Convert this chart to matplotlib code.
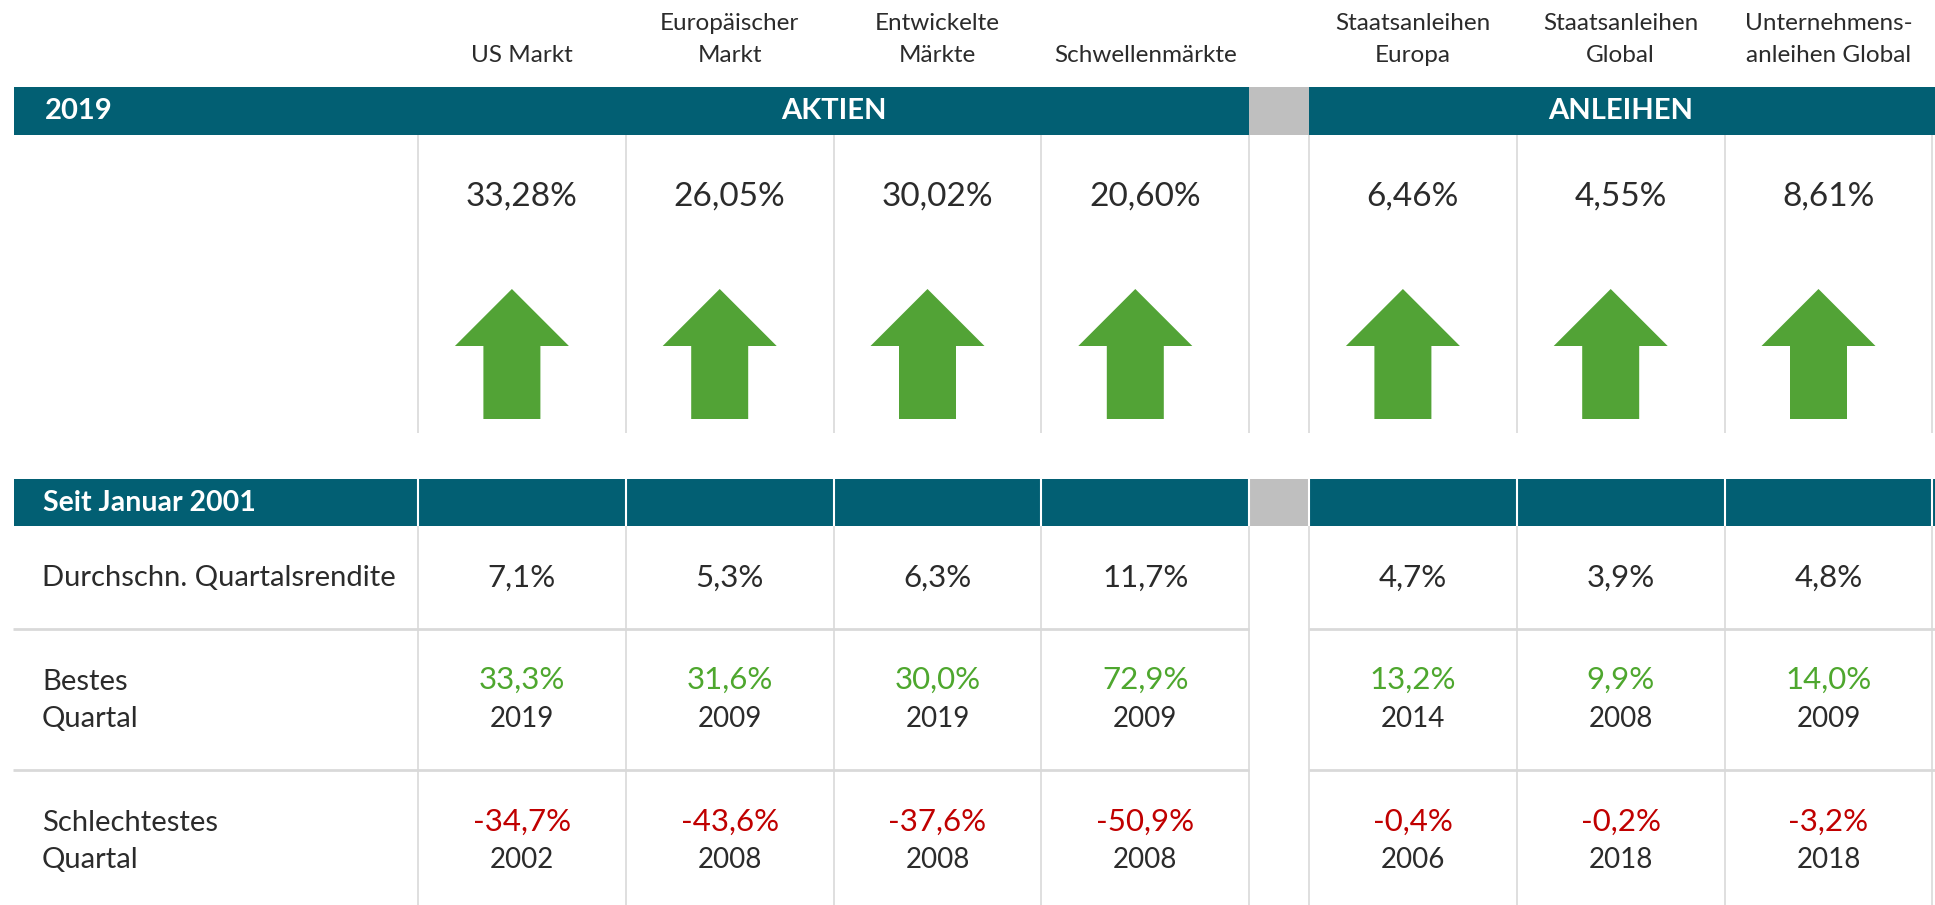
import matplotlib
matplotlib.use("Agg")
import matplotlib.pyplot as plt
from matplotlib.patches import Rectangle, Polygon

plt.rcParams['font.family'] = ['Lato', 'DejaVu Sans']

# data
columns = ["US Markt", "Europäischer\nMarkt", "Entwickelte\nMärkte", "Schwellenmärkte",
           "Staatsanleihen\nEuropa", "Staatsanleihen\nGlobal", "Unternehmens-\nanleihen Global"]
ret_2019 = [33.28, 26.05, 30.02, 20.60, 6.46, 4.55, 8.61]
avg_q = [7.1, 5.3, 6.3, 11.7, 4.7, 3.9, 4.8]
best_q = [33.3, 31.6, 30.0, 72.9, 13.2, 9.9, 14.0]
best_year = [2019, 2009, 2019, 2009, 2014, 2008, 2009]
worst_q = [-34.7, -43.6, -37.6, -50.9, -0.4, -0.2, -3.2]
worst_year = [2002, 2008, 2008, 2008, 2006, 2018, 2018]
groups = ["AKTIEN", "ANLEIHEN"]
row_labels = ["Durchschn. Quartalsrendite", "Bestes\nQuartal", "Schlechtestes\nQuartal"]

TEAL = "#025f73"
GREY = "#bfbfbf"
LINE = "#d9d9d9"
TXT = "#2b2b2b"
GREEN_TXT = "#4ea72e"
RED = "#c00000"
ARROW = "#52a336"
FW = "normal"

def pct(v, d):
    return f"{v:.{d}f}".replace(".", ",") + "%"

W, H = 1935, 905
fig = plt.figure(figsize=(W / 100, H / 100), dpi=100)
ax = fig.add_axes([0, 0, 1, 1])
ax.set_xlim(0, W)
ax.set_ylim(H, 0)
ax.axis("off")

# column geometry (pixels)
col_w = 207.8
x0_stock = 418
gap_l, gap_r = 1249, 1309
lefts = [x0_stock + i * col_w for i in range(4)] + [gap_r + i * col_w for i in range(3)]
centers = [l + col_w / 2 for l in lefts]
edges = lefts + [gap_l, gap_r + 3 * col_w]

# --- top section: 2019 ---
bar_t, bar_b = 87, 135
ax.add_patch(Rectangle((14, bar_t), gap_l - 14, bar_b - bar_t, color=TEAL, lw=0))
ax.add_patch(Rectangle((gap_l, bar_t), gap_r - gap_l, bar_b - bar_t, color=GREY, lw=0))
ax.add_patch(Rectangle((gap_r, bar_t), W - gap_r, bar_b - bar_t, color=TEAL, lw=0))
ax.text(45, 111, "2019", color="white", fontsize=21, fontweight="bold", va="center", ha="left")
ax.text((x0_stock + gap_l) / 2, 111, groups[0], color="white", fontsize=21, fontweight="bold",
        va="center", ha="center")
ax.text((gap_r + edges[-1]) / 2, 111, groups[1], color="white", fontsize=21, fontweight="bold",
        va="center", ha="center")

for e in edges:
    ax.plot([e, e], [bar_b, 433], color=LINE, lw=1.2, solid_capstyle="butt")

for c, name in zip(centers, columns):
    lines = name.split("\n")
    for k, ln in enumerate(reversed(lines)):
        ax.text(c, 56 - k * 32, ln, color=TXT, fontsize=17.5, fontweight=FW,
                ha="center", va="center")

for c, v in zip(centers, ret_2019):
    ax.text(c, 197, pct(v, 2), color=TXT, fontsize=24, fontweight=FW,
            ha="center", va="center")
    ac = c - 10
    ax.add_patch(Polygon([(ac, 289), (ac + 57, 346), (ac + 28.5, 346), (ac + 28.5, 419),
                          (ac - 28.5, 419), (ac - 28.5, 346), (ac - 57, 346)],
                         closed=True, color=ARROW, lw=0))

# --- bottom section: since 2001 ---
bt, bb = 479, 526
ax.add_patch(Rectangle((14, bt), gap_l - 14, bb - bt, color=TEAL, lw=0))
ax.add_patch(Rectangle((gap_l, bt), gap_r - gap_l, bb - bt, color=GREY, lw=0))
ax.add_patch(Rectangle((gap_r, bt), W - gap_r, bb - bt, color=TEAL, lw=0))
ax.text(43, 503, "Seit Januar 2001", color="white", fontsize=20.5, fontweight="bold",
        va="center", ha="left")
for e in edges:
    ax.plot([e, e], [bt, bb], color="white", lw=1.5, solid_capstyle="butt")
    ax.plot([e, e], [bb, H], color=LINE, lw=1.2, solid_capstyle="butt")

for y in [629, 770]:
    ax.plot([13, gap_l], [y, y], color=LINE, lw=2, solid_capstyle="butt")
    ax.plot([gap_r, W], [y, y], color=LINE, lw=2, solid_capstyle="butt")

row_y = [(578,), (682, 719), (823, 860)]
for lab, ys in zip(row_labels, row_y):
    for ln, y in zip(lab.split("\n"), ys):
        ax.text(42, y, ln, color=TXT, fontsize=21, fontweight=FW, ha="left", va="center")

for c, a, b, by, w, wy in zip(centers, avg_q, best_q, best_year, worst_q, worst_year):
    ax.text(c, 578, pct(a, 1), color=TXT, fontsize=22.5, fontweight=FW, ha="center", va="center")
    ax.text(c, 680, pct(b, 1), color=GREEN_TXT, fontsize=22.5, fontweight=FW, ha="center", va="center")
    ax.text(c, 719, str(by), color=TXT, fontsize=20, fontweight=FW, ha="center", va="center")
    ax.text(c, 822, pct(w, 1), color=RED, fontsize=22.5, fontweight=FW, ha="center", va="center")
    ax.text(c, 860, str(wy), color=TXT, fontsize=20, fontweight=FW, ha="center", va="center")

fig.savefig("out.png", dpi=100, facecolor="white")
